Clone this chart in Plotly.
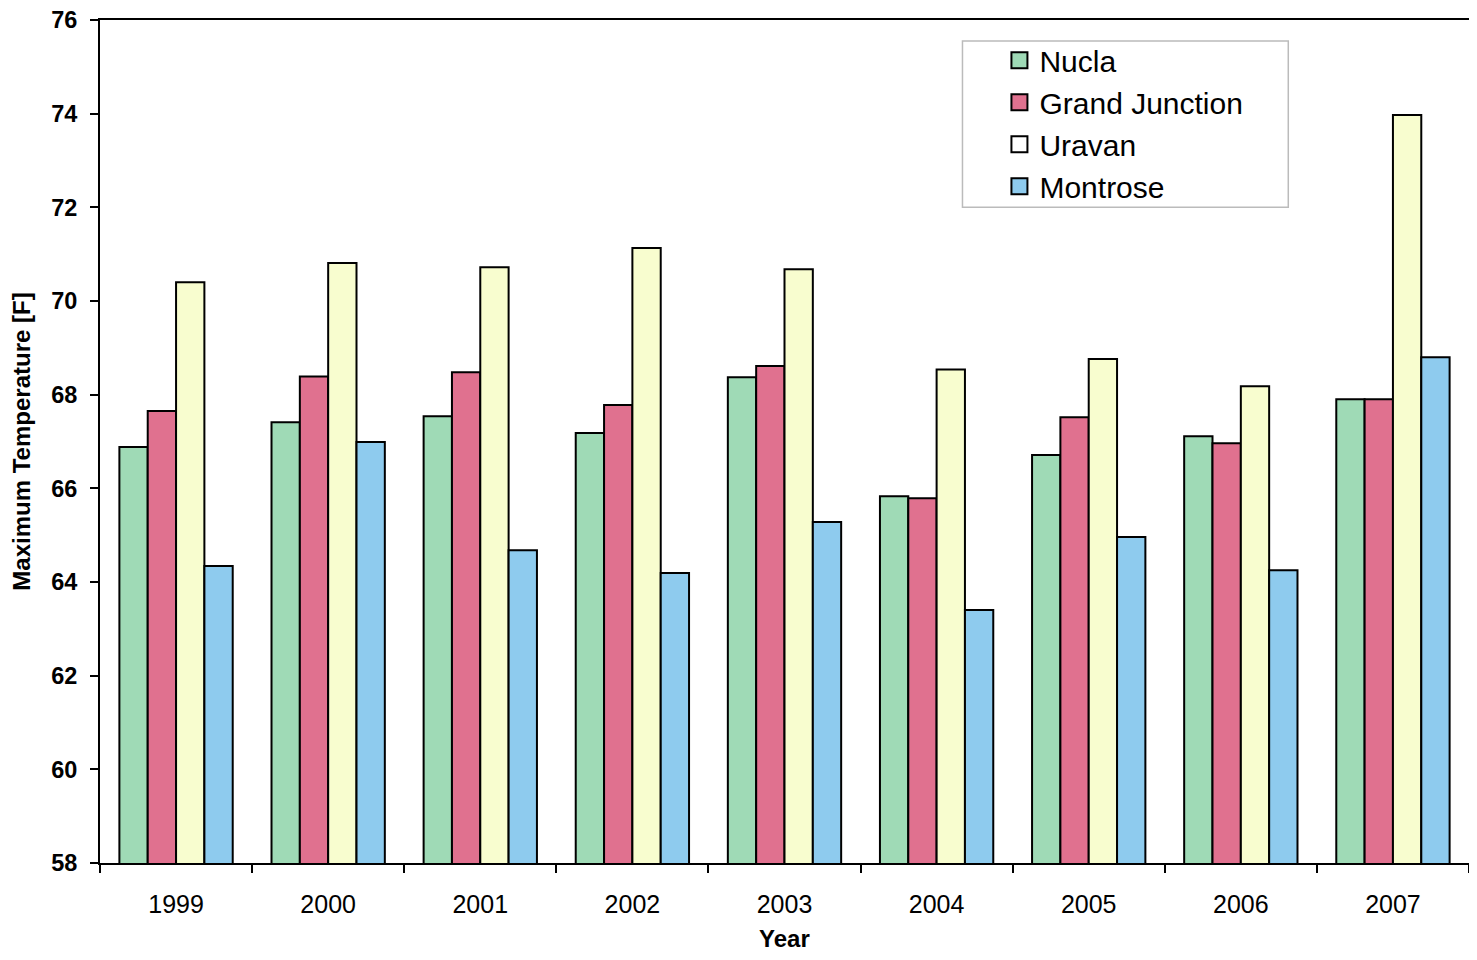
import plotly.graph_objects as go

years = ["1999", "2000", "2001", "2002", "2003", "2004", "2005", "2006", "2007"]
nucla = [66.88, 67.41, 67.54, 67.18, 68.37, 65.83, 66.71, 67.11, 67.90]
grand_junction = [67.65, 68.39, 68.48, 67.78, 68.61, 65.79, 67.52, 66.96, 67.90]
uravan = [70.40, 70.81, 70.72, 71.13, 70.68, 68.54, 68.76, 68.18, 73.97]
montrose = [64.34, 66.99, 64.68, 64.19, 65.28, 63.40, 64.96, 64.25, 68.80]
y_ticks = [58, 60, 62, 64, 66, 68, 70, 72, 74, 76]

series = [
    ("Nucla", nucla, "#9fdab6", "#9fdab6"),
    ("Grand Junction", grand_junction, "#e0718f", "#e0718f"),
    ("Uravan", uravan, "#f8fdcf", "#ffffff"),
    ("Montrose", montrose, "#8ecbee", "#8ecbee"),
]

fig = go.Figure()
for name, vals, col, legcol in series:
    fig.add_trace(go.Bar(
        x=years, y=vals, name=name, showlegend=False, legendgroup=name,
        marker=dict(color=col, line=dict(color="black", width=2)),
    ))
# legend-only entries (larger square swatches, like the original)
for name, vals, col, legcol in series:
    fig.add_trace(go.Scatter(
        x=[None], y=[None], name=name, mode="markers", legendgroup=name,
        marker=dict(symbol="square", size=16, color=legcol, line=dict(color="black", width=2)),
        hoverinfo="skip",
    ))

fig.update_layout(
    width=1461, height=944,
    margin=dict(l=92, r=0, t=12, b=89, autoexpand=False),
    paper_bgcolor="white", plot_bgcolor="white",
    barmode="group", bargap=0.255, bargroupgap=0,
    font=dict(family="Liberation Sans, Arial, sans-serif", color="black"),
    showlegend=True,
    legend=dict(
        x=0.657, y=0.983, xanchor="left", yanchor="top",
        bgcolor="rgba(0,0,0,0)", borderwidth=0,
        font=dict(size=30, color="black"),
        tracegroupgap=0, itemsizing="trace",
    ),
    shapes=[dict(
        type="rect", xref="paper", yref="paper",
        x0=0.630, x1=0.868, y0=0.778, y1=0.975,
        line=dict(color="#bbbbbb", width=1.5), fillcolor="white", layer="below",
    )],
    annotations=[dict(
        text="<b>Year</b>", xref="paper", yref="paper", x=0.5, y=0,
        xanchor="center", yanchor="middle", yshift=-75, showarrow=False,
        font=dict(size=24, color="black"),
    )],
)
fig.update_xaxes(
    type="category", showline=True, linecolor="black", linewidth=2, mirror=True,
    ticks="outside", tickson="boundaries", ticklen=8, tickcolor="black", tickwidth=1.5,
    tickfont=dict(size=25, color="black"), ticklabelstandoff=18,
    showgrid=False, range=[-0.5, 8.5], automargin=False,
)
fig.update_yaxes(
    range=[58, 76], tickvals=y_ticks,
    showline=True, linecolor="black", linewidth=2,
    ticks="outside", ticklen=8, tickcolor="black", tickwidth=1.5,
    tickfont=dict(size=23.5, color="black", weight="bold"), ticklabelstandoff=8,
    ticklabeloverflow="allow",
    title=dict(text="<b>Maximum Temperature [F]</b>", font=dict(size=24, color="black"), standoff=20),
    showgrid=False, zeroline=False, automargin=False,
)

fig.write_html("out.html")
